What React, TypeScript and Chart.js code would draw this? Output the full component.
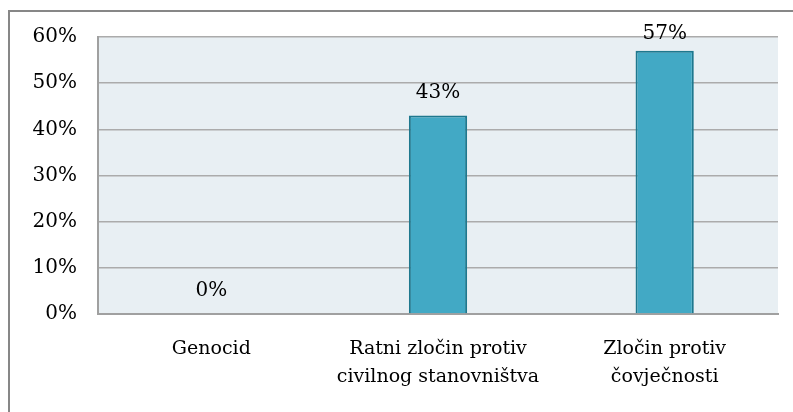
import React, { useEffect, useRef } from "react";
import { Chart, registerables } from "chart.js";

Chart.register(...registerables);

const categories: (string | string[])[] = [
  "Genocid",
  ["Ratni zločin protiv", "civilnog stanovništva"],
  ["Zločin protiv", "čovječnosti"],
];
const values: number[] = [0, 43, 57];
const dataLabels: string[] = ["0%", "43%", "57%"];
const yMax = 60;
const yStep = 10;

const FONT = "'DejaVu Serif', serif";

export default function App() {
  const ref = useRef<HTMLCanvasElement | null>(null);

  useEffect(() => {
    if (!ref.current) return;

    const bgPlugin = {
      id: "plotBg",
      beforeDraw(chart: any) {
        const { ctx, chartArea } = chart;
        ctx.save();
        ctx.fillStyle = "#E8EFF3";
        ctx.fillRect(chartArea.left, chartArea.top, chartArea.right - chartArea.left, chartArea.bottom - chartArea.top);
        ctx.restore();
      },
    };

    const labelPlugin = {
      id: "valLabels",
      afterDatasetsDraw(chart: any) {
        const { ctx } = chart;
        const meta = chart.getDatasetMeta(0);
        ctx.save();
        ctx.font = `20px ${FONT}`;
        ctx.fillStyle = "#000";
        ctx.textAlign = "center";
        ctx.textBaseline = "middle";
        meta.data.forEach((bar: any, i: number) => {
          const y = Math.max(bar.y - 23, chart.chartArea.top - 3);
          ctx.fillText(dataLabels[i], bar.x, y);
        });
        ctx.restore();
      },
    };

    const chart = new Chart(ref.current, {
      type: "bar",
      data: {
        labels: categories,
        datasets: [
          {
            data: values,
            backgroundColor: "#42A9C5",
            borderColor: "#1E788E",
            borderWidth: 2,
            categoryPercentage: 1,
            barPercentage: 0.257,
          },
        ],
      },
      options: {
        responsive: false,
        animation: false,
        layout: { padding: { left: 0, right: 15, top: 37, bottom: 0 } },
        plugins: {
          legend: { display: false },
          tooltip: { enabled: false },
        },
        scales: {
          x: {
            grid: { display: false, drawTicks: false },
            border: { display: true, color: "#A0A0A0", width: 2 },
            ticks: {
              color: "#000",
              font: { family: FONT, size: 19, lineHeight: 1.47 },
              padding: 21,
              maxRotation: 0,
              autoSkip: false,
            },
            afterFit(scale: any) {
              scale.height = 98;
            },
          },
          y: {
            min: 0,
            max: yMax,
            grid: { color: "#ABABAB", lineWidth: 1.5, drawTicks: false },
            border: { display: true, color: "#A0A0A0", width: 2 },
            ticks: {
              stepSize: yStep,
              color: "#000",
              font: { family: FONT, size: 20 },
              padding: 21,
              callback: (v: any) => `${v}%`,
            },
            afterFit(scale: any) {
              scale.width = 98;
            },
          },
        },
      },
      plugins: [bgPlugin, labelPlugin],
    } as any);

    return () => chart.destroy();
  }, []);

  return (
    <div style={{ position: "absolute", left: 0, top: 0, width: 793, height: 412, overflow: "hidden", background: "#fff" }}>
      <div
        style={{
          position: "absolute",
          left: 8,
          top: 10,
          width: 820,
          height: 440,
          border: "2px solid #878787",
          boxSizing: "border-box",
        }}
      />
      <canvas ref={ref} width={793} height={412} style={{ position: "absolute", left: 0, top: 0, display: "block" }} />
    </div>
  );
}
